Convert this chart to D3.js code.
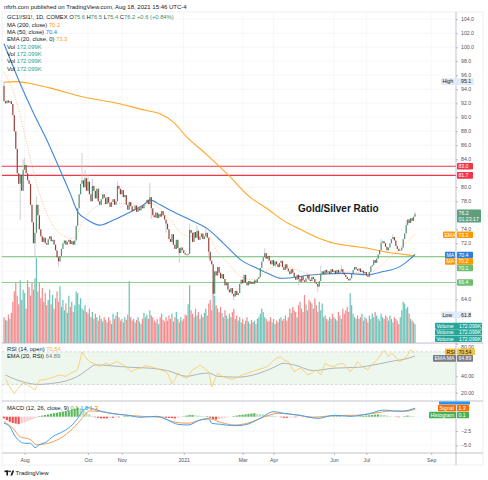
<!DOCTYPE html>
<html>
<head>
<meta charset="utf-8">
<script src="https://cdn.jsdelivr.net/npm/d3@7"></script>
<style>
  body { margin: 0; background: #fff; }
  svg { display: block; font-family: "Liberation Sans", Arial, sans-serif; }
</style>
</head>
<body>
<svg id="chart" width="488" height="480"></svg>
<script>
// ---- data (bar index = trading day) ----
const firstOpen = 94.5;
const closes = [
  92.3,92.0,92.4,92.1,92.3,91.9,90.3,88.0,85.5,82.0,
  80.5,81.8,79.5,82.5,83.2,82.0,81.0,80.5,77.5,75.0,
  72.0,73.5,77.5,76.0,74.0,73.0,72.2,72.8,72.0,71.8,
  72.6,73.0,72.3,72.5,71.8,71.0,70.0,69.4,70.2,71.2,
  72.0,72.4,71.8,72.2,72.5,71.9,72.3,71.8,72.4,74.5,
  77.0,79.0,80.5,81.0,80.0,81.3,79.5,80.8,79.0,78.0,
  80.2,79.5,78.4,79.8,78.0,77.5,78.3,79.0,78.5,77.6,
  78.6,77.8,77.2,77.9,78.3,77.5,78.0,80.2,79.8,79.0,
  79.6,78.6,78.9,77.5,76.8,77.9,77.3,76.6,76.9,77.4,
  76.5,77.0,76.7,77.3,77.0,77.6,77.8,78.2,77.6,78.6,
  77.0,76.0,75.7,76.4,75.6,76.2,75.8,76.6,76.0,75.4,
  74.8,74.0,72.6,72.2,73.3,71.8,71.2,72.5,71.3,70.6,
  71.4,71.0,70.6,70.4,70.3,70.5,73.9,73.5,72.2,73.6,
  72.8,73.8,72.5,72.9,73.4,72.6,73.0,73.5,72.8,70.8,
  69.5,69.0,64.8,68.0,67.4,68.6,67.8,67.0,67.6,66.9,
  66.0,66.4,65.4,65.0,65.6,64.8,64.4,65.2,64.6,64.9,
  66.2,66.8,66.3,67.5,66.4,66.0,66.6,66.2,66.5,66.2,
  66.7,66.4,66.9,67.2,68.5,69.4,70.0,70.6,69.8,70.2,
  69.5,69.0,69.6,68.8,69.4,69.0,68.6,69.2,69.5,68.6,
  68.2,69.0,68.4,68.0,67.6,68.3,67.8,67.2,66.8,67.5,
  66.9,66.5,67.3,66.7,66.5,67.0,67.5,66.8,66.6,67.2,
  66.9,66.4,66.2,65.8,66.6,67.6,68.0,67.6,68.2,67.8,
  68.0,67.6,68.3,67.9,68.1,67.6,68.2,67.8,68.0,68.3,
  67.8,67.5,67.2,66.9,66.7,67.0,67.6,68.2,68.6,68.3,
  68.1,68.4,67.9,68.1,67.7,67.9,67.4,67.2,67.9,68.7,
  68.9,69.6,69.2,69.8,70.4,71.0,72.1,72.3,72.0,71.5,
  71.0,71.4,72.0,72.6,72.9,72.4,71.6,71.2,70.9,71.0,
  71.4,72.6,73.4,74.6,75.4,74.9,75.6,75.2,75.8,76.2
];
// visible wicks only: [bar, price]
const wickHighs = [[0,95.1],[13,84.0],[14,84.2],[22,78.7],[53,84.9],[55,82.5],[57,81.8],[60,81.2],
  [77,80.8],[99,80.6],[126,74.8],[131,74.6],[137,74.2],[177,71.3],[215,68.8],[229,68.9],
  [256,72.6],[264,73.3],[273,75.3],[279,76.5]];
const wickLows = [[11,75.3],[21,69.9],[37,68.7],[100,75.5],[110,73.5],[119,69.2],[139,69.8],
  [142,61.8],[156,63.9],[200,66.0],[213,65.1]];

const volumes = [
  30,27,26,33,28,35,48,60,70,55,
  45,73,50,62,58,40,73,65,55,70,
  62,75,99,60,70,52,64,48,58,44,
  50,62,45,56,40,52,60,48,66,42,
  50,38,46,35,55,42,48,36,44,60,
  58,45,52,40,38,44,36,34,40,30,
  36,28,34,30,26,32,28,25,30,27,
  24,30,26,22,34,28,32,36,30,26,
  28,24,30,27,33,72,30,26,28,24,
  27,30,25,22,28,35,30,33,28,38,
  32,30,26,24,28,22,30,34,27,25,
  30,26,32,28,34,25,30,36,28,24,
  30,26,28,33,32,45,67,38,34,30,
  40,32,36,28,33,30,35,40,32,46,
  50,38,70,55,44,40,36,42,35,30,
  38,32,28,34,30,36,40,28,32,26,
  30,24,28,22,26,30,25,22,27,24,
  26,22,28,30,34,40,36,30,28,25,
  26,30,24,28,22,26,24,28,30,26,
  28,32,26,30,40,35,42,38,36,30,
  44,48,40,36,56,45,38,50,48,46,
  40,52,44,36,48,38,46,30,32,28,
  26,30,28,34,30,28,26,36,32,28,
  40,34,38,42,36,58,44,34,30,28,
  32,28,30,34,26,30,28,24,32,28,
  34,30,36,32,28,26,34,30,28,32,
  30,26,32,28,24,30,28,26,22,30,
  38,48,46,40,42,34,28,26,24,22
];

// moving averages: [bar, value]
const ma200 = [[0,95.0],[8,95.1],[16,94.9],[31,94.2],[54,92.9],[77,92.0],[96,91.0],[106,90.5],
  [115,89.3],[124,87.2],[138,84.6],[152,81.8],[167,78.6],[179,76.9],[190,75.2],[201,74.0],
  [213,72.8],[224,72.0],[236,71.6],[247,71.3],[258,70.8],[268,70.5],[279,70.2]];
const ma50 = [[0,100.5],[10,95.3],[20,90.6],[29,86.8],[38,82.5],[45,79.1],[50,76.5],[57,75.3],
  [65,74.6],[74,75.3],[84,76.3],[96,77.7],[99,78.2],[106,77.5],[115,76.5],[127,75.3],
  [138,74.1],[149,72.0],[161,69.6],[172,68.4],[180,67.6],[188,67.0],[210,67.5],[233,67.7],
  [247,67.5],[256,67.9],[269,68.7],[276,69.8],[279,70.4]];
const ema20 = [[0,96.5],[6,93.9],[16,85.8],[22,80.6],[29,76.3],[38,73.4],[47,72.7],[54,75.3],
  [61,77.0],[70,77.7],[84,77.7],[93,77.2],[99,77.7],[113,75.3],[122,73.2],[130,72.9],
  [138,73.0],[145,70.8],[154,68.7],[161,67.2],[169,66.8],[179,68.2],[188,68.9],[199,68.2],
  [210,67.5],[233,67.9],[247,67.7],[256,68.9],[267,71.0],[279,73.3]];

const hLinesRed = [83.0, 81.7];
const hLinesGreen = [70.1, 66.4];

// RSI (14, open) and its EMA
const rsi = [[1,37.5],[4,27],[7,19],[10,26],[13,32],[16,29],[18,27],[21,23],[24,35],[28,36],
  [31,37.5],[35,40],[38,41.5],[42,40],[45,43.7],[48,46],[50,48],[53,70],[55,64],[58,58],
  [62,55],[65,52],[69,56],[72,54],[75,57],[77,58],[81,54],[84,50],[86,45.6],[90,49],
  [93,50],[96,53],[99,52],[103,50],[106,48],[109,46],[111,43.7],[114,31],[116,36],[118,44],
  [121,40],[124,37.5],[128,48],[131,51],[133,54],[136,50],[139,45.6],[141,27],[145,43.7],[148,40],
  [152,37.5],[155,36],[159,39.5],[162,42],[165,43.7],[169,46],[172,48],[176,50],[179,52],[182,58],
  [185,62],[188,64],[190,60],[193,58],[197,45.6],[199,48],[201,50],[204,46],[206,41.5],[209,44],
  [212,48],[215,41.5],[218,56],[221,53],[224,52],[227,55],[230,56],[233,50],[235,45.6],[238,52],
  [240,58],[243,52],[247,48],[249,53],[251,56],[254,62],[258,72],[261,64],[263,68],[265,66],
  [268,58],[271,60],[274,66],[276,73],[278,69],[279,70.5]];
const rsiEma = [[1,41.5],[13,33],[24,30],[31,31],[45,36],[52,42],[58,50],[62,54],[72,53],[86,51],
  [99,50],[111,47],[124,40],[133,43],[139,44],[145,40],[159,39],[172,43],[182,50],[190,56],
  [197,54],[210,47],[224,50],[240,51],[254,55],[265,59],[272,61],[279,64.9]];

// MACD (12, 26, close, 9)
const macdLine = [[0,-1.15],[4,-1.75],[7,-3.2],[11,-4.36],[14,-4.65],[18,-4.65],[21,-5.4],[24,-4.9],
  [29,-4.36],[33,-3.5],[40,-2.6],[45,-1.75],[50,-0.3],[54,1.17],[57,1.57],[63,1.17],[72,0.6],
  [84,0.24],[93,-0.1],[104,0.07],[111,-0.58],[118,-1.33],[125,-1.45],[133,-0.58],[139,-0.3],
  [141,-1.15],[147,-1.33],[156,-1.57],[163,-1.45],[174,-0.3],[183,0.87],[190,0.6],[201,0.24],
  [213,-0.3],[224,0.24],[235,0.07],[247,0.47],[258,1.17],[265,1.0],[271,1.0],[279,1.5]];
const signalLine = [[0,-0.9],[6,-2.0],[11,-3.5],[18,-4.0],[22,-4.9],[29,-4.7],[38,-3.8],[47,-2.0],
  [53,-0.3],[58,1.0],[65,0.9],[77,0.45],[93,0.07],[106,-0.1],[115,-0.9],[125,-1.15],[133,-0.6],
  [140,-0.4],[147,-1.0],[157,-1.45],[165,-1.15],[176,-0.1],[186,0.6],[197,0.35],[210,-0.1],
  [224,0.2],[237,0.24],[251,0.6],[263,1.0],[271,0.9],[279,1.3]];
// histogram, one value every 2 bars
const histogram = [
  -0.3,-0.6,-0.9,-1.1,-1.2,-1.3,-1.2,-1.0,-0.8,-0.6,-0.4,-0.2,
  0.1,0.2,0.3,0.4,0.5,0.6,0.7,0.8,0.9,1.0,1.1,1.2,1.4,1.6,1.5,1.2,0.8,
  0.4,0.1,-0.1,-0.2,-0.3,-0.3,-0.3,-0.2,-0.2,-0.1,-0.1,0.0,0.1,
  0.1,0.05,0.1,0.0,-0.05,0.05,0.1,0.1,0.05,0.0,-0.05,-0.1,-0.1,-0.2,-0.2,
  -0.25,-0.3,-0.2,-0.1,0.05,0.2,0.3,0.3,0.25,0.2,0.15,0.1,0.1,
  -0.2,-0.4,-0.5,-0.4,-0.3,-0.2,
  -0.1,0.0,0.1,0.2,0.3,0.35,0.4,0.5,0.55,0.6,0.5,0.45,0.4,0.35,0.3,0.2,
  0.1,0.0,-0.1,-0.2,-0.2,-0.15,-0.1,-0.1,-0.05,0.0,
  -0.05,-0.1,-0.15,-0.1,-0.05,0.0,0.05,0.0,-0.05,0.05,0.1,
  0.1,0.1,0.05,0.0,-0.05,-0.05,0.0,0.05,0.1,0.15,0.2,0.25,0.3,0.35,
  0.4,0.35,0.3,0.2,0.1,0.0,-0.05,-0.1,0.0,0.1,0.2,0.15,0.1
];

const monthLabels = ['Aug','Oct','Nov','2021','Mar','Apr','Jun','Jul','Sep'];
const monthBars = [14, 57, 80, 122, 162, 183, 224, 246, 290];
const priceTicks = d3.range(62, 105, 2);
// tick labels that the value tags cover in the original are left out
const priceLabelTicks = [64, 72, 74, 78, 80, 84, 86, 88, 90, 92, 94, 96, 98, 100, 102, 104];
const rsiTicks = [80, 40, 20];
const macdTicks = [-2.5, -5];

// ---- layout ----
const svg = d3.select('#chart');
const axisX = 456, padL = 2, padR = 483, padT = 12;
const mainBottom = 343, rsiBottom = 401, macdBottom = 453, frameBottom = 465;

const x = d3.scaleLinear().domain([0, 279]).range([4, 415]);
const y = d3.scaleLinear().domain([62, 104]).range([313.3, 19.3]);
const yVol = d3.scaleLinear().domain([0, 100]).range([mainBottom, 257]);
const yRsi = d3.scaleLinear().domain([20, 80]).range([392.6, 343.7]);
const yMacd = d3.scaleLinear().domain([-5, 0]).range([445.3, 416.7]);

const defs = svg.append('defs');
function clip(id, y0, y1) {
  defs.append('clipPath').attr('id', id).append('rect')
    .attr('x', padL).attr('y', y0).attr('width', axisX - padL).attr('height', y1 - y0);
}
clip('cMain', padT, mainBottom);
clip('cRsi', mainBottom, rsiBottom);
clip('cMacd', rsiBottom, macdBottom);

// caption
svg.append('text').attr('x', 4).attr('y', 6.5).attr('dy', '0.35em').attr('font-size', 6).attr('fill', '#131722')
  .text('nftrh.com published on TradingView.com, Aug 18, 2021 15:46 UTC-4');

// frame
svg.append('rect').attr('x', padL).attr('y', padT).attr('width', padR - padL).attr('height', frameBottom - padT)
  .attr('fill', '#fff').attr('stroke', '#e0e3eb').attr('stroke-width', 0.6);

// grid
const grid = svg.append('g').attr('stroke', '#f0f3fa').attr('stroke-width', 0.7);
grid.selectAll('.hg').data(priceTicks).join('line')
  .attr('x1', padL).attr('x2', axisX).attr('y1', d => y(d)).attr('y2', d => y(d));
grid.selectAll('.vg').data(monthBars).join('line')
  .attr('x1', d => x(d)).attr('x2', d => x(d)).attr('y1', padT).attr('y2', macdBottom);
grid.selectAll('.rg').data([80, 60, 40, 20]).join('line')
  .attr('x1', padL).attr('x2', axisX).attr('y1', d => yRsi(d)).attr('y2', d => yRsi(d));
grid.selectAll('.mg').data([0, -2.5, -5]).join('line')
  .attr('x1', padL).attr('x2', axisX).attr('y1', d => yMacd(d)).attr('y2', d => yMacd(d));

// ---- main pane ----
const candles = closes.map((c, i) => ({ i, o: i === 0 ? firstOpen : closes[i - 1], c }));
const main = svg.append('g').attr('clip-path', 'url(#cMain)');

main.selectAll('.vol').data(candles).join('rect')
  .attr('x', d => x(d.i) - 0.6).attr('width', 1.2)
  .attr('y', d => yVol(volumes[d.i])).attr('height', d => mainBottom - yVol(volumes[d.i]))
  .attr('fill', d => d.c >= d.o ? '#6cc3b8' : '#f5898b');

main.selectAll('.hl').data(hLinesRed).join('line')
  .attr('x1', padL).attr('x2', axisX).attr('y1', d => y(d)).attr('y2', d => y(d))
  .attr('stroke', '#f23645').attr('stroke-width', 1.1);
main.selectAll('.hlg').data(hLinesGreen).join('line')
  .attr('x1', padL).attr('x2', axisX).attr('y1', d => y(d)).attr('y2', d => y(d))
  .attr('stroke', '#8fcc8f').attr('stroke-width', 1.1);

const line = d3.line().x(d => x(d[0])).y(d => y(d[1])).curve(d3.curveMonotoneX);
main.append('path').datum(ma200).attr('d', line).attr('fill', 'none').attr('stroke', '#ffa726').attr('stroke-width', 1.1);
main.append('path').datum(ma50).attr('d', line).attr('fill', 'none').attr('stroke', '#3f87db').attr('stroke-width', 1.1);
main.append('path').datum(ema20).attr('d', line).attr('fill', 'none').attr('stroke', '#ffb366')
  .attr('stroke-width', 0.9).attr('stroke-dasharray', '0.9,1.6');

// wicks
main.selectAll('.wh').data(wickHighs).join('line')
  .attr('x1', d => x(d[0])).attr('x2', d => x(d[0]))
  .attr('y1', d => y(d[1])).attr('y2', d => y(Math.max(candles[d[0]].o, candles[d[0]].c)))
  .attr('stroke', '#c4c4c4').attr('stroke-width', 0.8);
main.selectAll('.wl').data(wickLows).join('line')
  .attr('x1', d => x(d[0])).attr('x2', d => x(d[0]))
  .attr('y1', d => y(d[1])).attr('y2', d => y(Math.min(candles[d[0]].o, candles[d[0]].c)))
  .attr('stroke', '#c4c4c4').attr('stroke-width', 0.8);
// bodies
main.selectAll('.body').data(candles).join('rect')
  .attr('x', d => x(d.i) - 0.6).attr('width', 1.2)
  .attr('y', d => y(Math.max(d.o, d.c)))
  .attr('height', d => Math.max(0.6, Math.abs(y(d.o) - y(d.c))))
  .attr('fill', d => d.c >= d.o ? '#4f8f6c' : '#963d38');

svg.append('text').attr('x', 298).attr('y', 212).attr('font-size', 10).attr('font-weight', 'bold')
  .attr('fill', '#131722').text('Gold/Silver Ratio');

// ---- RSI pane ----
const rsiG = svg.append('g').attr('clip-path', 'url(#cRsi)');
rsiG.append('rect').attr('x', padL).attr('width', axisX - padL)
  .attr('y', yRsi(70)).attr('height', yRsi(30) - yRsi(70)).attr('fill', '#eef7ee');
rsiG.selectAll('.band').data([70, 30]).join('line')
  .attr('x1', padL).attr('x2', axisX).attr('y1', d => yRsi(d)).attr('y2', d => yRsi(d))
  .attr('stroke', '#c3c6ce').attr('stroke-width', 0.7).attr('stroke-dasharray', '2.5,2');
rsiG.append('path').datum(rsiEma)
  .attr('d', d3.line().x(d => x(d[0])).y(d => yRsi(d[1])).curve(d3.curveMonotoneX))
  .attr('fill', 'none').attr('stroke', '#a9abb1').attr('stroke-width', 0.9);
rsiG.append('path').datum(rsi).attr('d', d3.line().x(d => x(d[0])).y(d => yRsi(d[1])))
  .attr('fill', 'none').attr('stroke', '#f7c95c').attr('stroke-width', 0.8);

// ---- MACD pane ----
const macdG = svg.append('g').attr('clip-path', 'url(#cMacd)');
macdG.selectAll('.hist').data(histogram).join('rect')
  .attr('x', (d, k) => x(k * 2) - 1.2).attr('width', 2.2)
  .attr('y', d => Math.min(yMacd(d), yMacd(0)))
  .attr('height', d => Math.abs(yMacd(d) - yMacd(0)))
  .attr('fill', (d, k) => {
    const prev = k > 0 ? histogram[k - 1] : d;
    if (d >= 0) return d >= prev ? '#5cb85f' : '#b5dcb6';
    return d <= prev ? '#ef5350' : '#fbc8c9';
  });
const mLine = d3.line().x(d => x(d[0])).y(d => yMacd(d[1])).curve(d3.curveMonotoneX);
macdG.append('path').datum(signalLine).attr('d', mLine).attr('fill', 'none').attr('stroke', '#ff9a4d').attr('stroke-width', 1);
macdG.append('path').datum(macdLine).attr('d', mLine).attr('fill', 'none').attr('stroke', '#3ea3f3').attr('stroke-width', 1);

// ---- separators & axes ----
const sep = svg.append('g').attr('stroke', '#b2b5be').attr('stroke-width', 0.8);
[mainBottom, rsiBottom, macdBottom].forEach(v => {
  sep.append('line').attr('x1', padL).attr('x2', padR).attr('y1', v).attr('y2', v);
});
sep.append('line').attr('x1', axisX).attr('x2', axisX).attr('y1', padT).attr('y2', frameBottom);

function styleAxis(g) {
  g.select('.domain').remove();
  g.selectAll('line').attr('stroke', '#9598a1').attr('stroke-width', 0.6);
  g.selectAll('text').attr('font-size', 5.2).attr('fill', '#50535e').attr('font-family', '"Liberation Sans", Arial, sans-serif');
}
svg.append('g').attr('transform', `translate(${axisX},0)`)
  .call(d3.axisRight(y).tickValues(priceLabelTicks).tickFormat(d3.format('.1f')).tickSize(2).tickPadding(3))
  .call(styleAxis);
svg.append('g').attr('transform', `translate(${axisX},0)`)
  .call(d3.axisRight(yRsi).tickValues(rsiTicks).tickFormat(d3.format('.2f')).tickSize(2).tickPadding(3))
  .call(styleAxis)
  .call(g => g.selectAll('text').filter(d => d === 80).attr('dy', '0.85em'));
svg.append('g').attr('transform', `translate(${axisX},0)`)
  .call(d3.axisRight(yMacd).tickValues(macdTicks).tickFormat(d3.format('.1f')).tickSize(2).tickPadding(3))
  .call(styleAxis);
svg.append('g').attr('transform', `translate(0,${macdBottom})`)
  .call(d3.axisBottom(x).tickValues(monthBars).tickFormat((d, k) => monthLabels[k]).tickSize(2).tickPadding(3.5))
  .call(styleAxis);

// ---- right-side value tags ----
function tag(x0, w, yc, bg, fg, txt, h) {
  h = h || 6.6;
  svg.append('rect').attr('x', x0).attr('y', yc - h / 2).attr('width', w).attr('height', h)
    .attr('rx', 0.8).attr('fill', bg);
  svg.append('text').attr('x', x0 + 1.4).attr('y', yc).attr('dy', '0.35em')
    .attr('font-size', 5.2).attr('fill', fg).text(txt);
}
tag(441, 33, y(95.1), '#dfeafa', '#131722', 'High');
svg.append('text').attr('x', 461).attr('y', y(95.1)).attr('dy', '0.35em').attr('font-size', 5.2).attr('fill', '#131722').text('95.1');
tag(457, 16, y(83.0), '#f23645', '#fff', '83.0');
tag(457, 16, y(81.7), '#f23645', '#fff', '81.7');
svg.append('rect').attr('x', 457).attr('y', 209.5).attr('width', 24).attr('height', 13).attr('rx', 0.8).attr('fill', '#5f9e7d');
svg.append('text').attr('x', 458.6).attr('y', 213.4).attr('dy', '0.35em').attr('font-size', 5.2).attr('fill', '#fff').text('76.2');
svg.append('text').attr('x', 458.6).attr('y', 219.2).attr('dy', '0.35em').attr('font-size', 5.2).attr('fill', '#fff').text('01:23:17');
tag(443, 12, 234.8, '#ff9800', '#fff', 'EMA');
tag(457, 16, 234.8, '#ff9800', '#fff', '73.3');
tag(445, 10, 255, '#2f7fd8', '#fff', 'MA');
tag(457, 16, 255, '#2f7fd8', '#fff', '70.4');
tag(445, 10, 261.5, '#ff9800', '#fff', 'MA');
tag(457, 16, 261.5, '#ff9800', '#fff', '70.2');
tag(457, 16, 268, '#6dbf6f', '#fff', '70.1');
tag(457, 16, y(66.4), '#6dbf6f', '#fff', '66.4');
tag(441, 30, y(61.8), '#dfeafa', '#131722', 'Low');
svg.append('text').attr('x', 461).attr('y', y(61.8)).attr('dy', '0.35em').attr('font-size', 5.2).attr('fill', '#131722').text('61.8');
[325.8, 332.4, 339.0].forEach(v => {
  tag(435, 47, v, '#26a69a', '#fff', 'Volume', 6.2);
  svg.append('text').attr('x', 459).attr('y', v).attr('dy', '0.35em').attr('font-size', 5.2).attr('fill', '#fff').text('172.099K');
});
tag(445, 11, 351.7, '#f6c244', '#131722', 'RSI');
tag(457, 18, 351.7, '#f6c244', '#131722', '70.54');
tag(433, 23, 358.4, '#787b86', '#fff', 'EMA MA');
tag(457, 16, 358.4, '#787b86', '#fff', '64.89');
svg.append('rect').attr('x', 439).attr('y', rsiBottom + 0.5).attr('width', 31).attr('height', 3).attr('fill', '#2196f3');
tag(438, 18, 408, '#ff6d00', '#fff', 'Signal');
tag(457, 12, 408, '#ff6d00', '#fff', '1.3');
tag(429, 27, 415, '#4caf50', '#fff', 'Histogram');
tag(457, 12, 415, '#4caf50', '#fff', '0.1');

// ---- legends ----
const lg = svg.append('g').attr('font-size', 5.8);
function legendRow(yy, parts) {
  const t = lg.append('text').attr('x', 7).attr('y', yy).attr('dy', '0.35em');
  parts.forEach(p => t.append('tspan').attr('fill', p[1]).text(p[0]));
}
legendRow(17.3, [['GC1!/SI1!, 1D, COMEX  ', '#131722'], ['O', '#131722'], ['75.6  ', '#3c8f5f'], ['H', '#131722'], ['76.5  ', '#3c8f5f'],
  ['L', '#131722'], ['75.4  ', '#3c8f5f'], ['C', '#131722'], ['76.2  +0.6 (+0.84%)', '#3c8f5f']]);
legendRow(24.7, [['MA (200, close)  ', '#131722'], ['70.2', '#ff9800']]);
legendRow(32.0, [['MA (50, close)  ', '#131722'], ['70.4', '#2f7fd8']]);
legendRow(39.4, [['EMA (20, close, 0)  ', '#131722'], ['73.3', '#ff9800']]);
[46.7, 54.0, 61.4, 68.7].forEach(v => legendRow(v, [['Vol  ', '#131722'], ['172.099K', '#26a69a']]));
legendRow(349, [['RSI (14, open)  ', '#131722'], ['70.54', '#f2b33d']]);
legendRow(355.8, [['EMA (20, RSI)  ', '#131722'], ['64.89', '#787b86']]);
legendRow(408, [['MACD (12, 26, close, 9)  ', '#131722'], ['0.1  ', '#4caf50'], ['1.5  ', '#2196f3'], ['1.3', '#ff6d00']]);

// ---- TradingView mark ----
const logo = svg.append('g').attr('fill', '#131722');
logo.append('rect').attr('x', 4.5).attr('y', 470.5).attr('width', 4.2).attr('height', 1.6);
logo.append('rect').attr('x', 6.4).attr('y', 470.5).attr('width', 1.6).attr('height', 5);
logo.append('circle').attr('cx', 10).attr('cy', 471.3).attr('r', 0.9);
logo.append('path').attr('d', 'M10.4,475.5 L12.4,470.5 L14.2,470.5 L12.2,475.5 Z');
svg.append('text').attr('x', 15.5).attr('y', 473.2).attr('dy', '0.35em').attr('font-size', 6)
  .attr('fill', '#131722').text('TradingView');
</script>
</body>
</html>
